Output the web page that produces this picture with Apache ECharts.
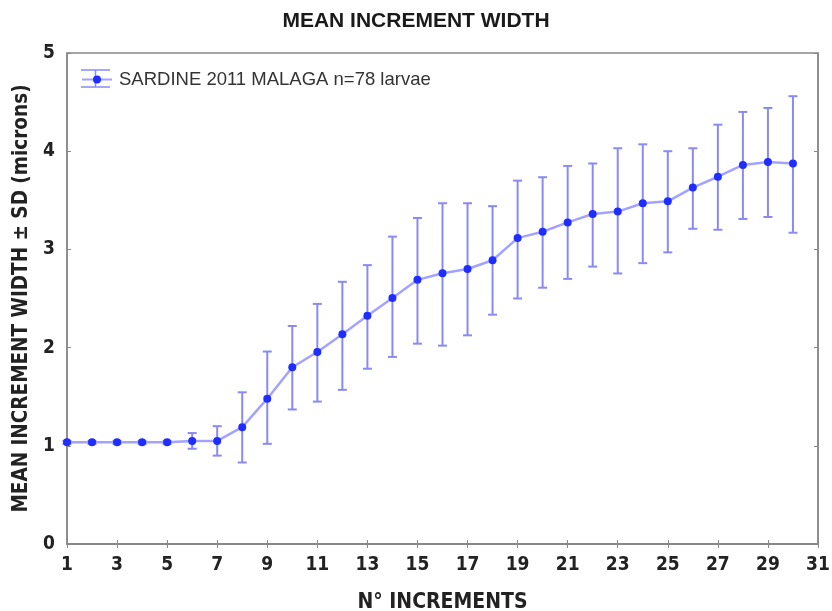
<!DOCTYPE html>
<html><head><meta charset="utf-8">
<script src="https://cdn.jsdelivr.net/npm/echarts@6/dist/echarts.min.js"></script>
<style>html,body{margin:0;padding:0;background:#fff;overflow:hidden}#c{width:832px;height:611px;display:block}</style>
</head><body><div id="c"></div>
<script>
const tickLabels = ['1','2','3','4','5','6','7','8','9','10','11','12','13','14','15','16','17','18','19','20','21','22','23','24','25','26','27','28','29','30','31'];
const increments = [1,2,3,4,5,6,7,8,9,10,11,12,13,14,15,16,17,18,19,20,21,22,23,24,25,26,27,28,29,30];
const meanWidth = [1.035,1.035,1.035,1.035,1.035,1.05,1.05,1.19,1.48,1.80,1.955,2.135,2.325,2.505,2.69,2.757,2.80,2.89,3.115,3.18,3.275,3.36,3.385,3.47,3.49,3.63,3.74,3.86,3.89,3.875];
const upperSD = [1.05,1.05,1.05,1.05,1.05,1.13,1.20,1.545,1.96,2.22,2.445,2.67,2.84,3.13,3.32,3.47,3.47,3.44,3.70,3.735,3.85,3.875,4.03,4.07,4.00,4.03,4.27,4.40,4.44,4.56];
const lowerSD = [1.02,1.02,1.02,1.02,1.02,0.97,0.90,0.83,1.02,1.37,1.45,1.57,1.785,1.905,2.04,2.02,2.125,2.335,2.50,2.61,2.70,2.825,2.755,2.86,2.97,3.21,3.20,3.31,3.33,3.17];
const yTicks = [0,1,2,3,4,5];
const seriesName = 'SARDINE 2011 MALAGA n=78 larvae';

const chart = echarts.init(document.getElementById('c'));
const lineData = increments.map((x,i)=>[String(x), meanWidth[i]]);
const errData = increments.map((x,i)=>[String(x), lowerSD[i], upperSD[i]]);
const narrow = "'DejaVu Sans Condensed','Liberation Sans Narrow','Arial Narrow',sans-serif";
const errColor = '#8a8af4';
chart.setOption({
  animation:false,
  title:{text:'MEAN INCREMENT WIDTH',left:'center',top:6,itemGap:0,textStyle:{fontFamily:"'Liberation Sans',Arial,sans-serif",fontWeight:'bold',fontSize:21,color:'#1a1a1a'}},
  grid:{left:67,right:14,top:53,bottom:67,show:true,borderColor:'#888',borderWidth:1.5,containLabel:false,outerBoundsMode:'none'},
  legend:{left:76,top:65,data:[seriesName],itemWidth:30,itemHeight:10,itemGap:6,
    textStyle:{fontFamily:"'Liberation Sans',Arial,sans-serif",fontSize:18.5,color:'#333',padding:[0,0,0,2]}},
  xAxis:[{type:'category',data:tickLabels,boundaryGap:false,
    name:'N° INCREMENTS',nameLocation:'middle',nameGap:48,
    nameTextStyle:{fontFamily:narrow,fontWeight:'bold',fontSize:21,color:'#222'},
    axisLine:{lineStyle:{color:'#888',width:1.5}},
    axisTick:{inside:true,interval:1,length:4,lineStyle:{color:'#888'}},
    axisLabel:{interval:1,margin:12,fontFamily:narrow,fontWeight:'bold',fontSize:19,color:'#222'},
    splitLine:{show:false}},
   {type:'category',data:tickLabels,boundaryGap:false,position:'top',
    axisLine:{lineStyle:{color:'#888',width:1.5}},
    axisTick:{inside:true,interval:1,length:4,lineStyle:{color:'#888'}},
    axisLabel:{show:false},splitLine:{show:false}}],
  yAxis:[{type:'value',min:0,max:5,interval:1,
    name:'MEAN INCREMENT WIDTH ± SD (microns)',nameLocation:'middle',nameGap:35,
    nameTextStyle:{fontFamily:narrow,fontWeight:'bold',fontSize:20.5,color:'#222'},
    axisLine:{show:true,lineStyle:{color:'#888',width:1.5}},
    axisTick:{show:true,inside:true,length:4,lineStyle:{color:'#888'}},
    axisLabel:{margin:12,fontFamily:narrow,fontWeight:'bold',fontSize:19,color:'#222',formatter:v=>yTicks.includes(v)?String(v):''},
    splitLine:{show:false}},
   {type:'value',min:0,max:5,interval:1,position:'right',
    axisLine:{show:true,lineStyle:{color:'#888',width:1.5}},
    axisTick:{show:true,inside:true,length:4,lineStyle:{color:'#888'}},
    axisLabel:{show:false},splitLine:{show:false}}],
  series:[
    {type:'custom',name:'err',data:errData,z:2,silent:true,
     renderItem:function(params,api){
       const lo=api.coord([api.value(0),api.value(1)]);
       const hi=api.coord([api.value(0),api.value(2)]);
       const w=4.5;
       const st={stroke:errColor,lineWidth:2};
       return {type:'group',children:[
         {type:'line',shape:{x1:lo[0],y1:lo[1],x2:hi[0],y2:hi[1]},style:st},
         {type:'line',shape:{x1:lo[0]-w,y1:lo[1],x2:lo[0]+w,y2:lo[1]},style:st},
         {type:'line',shape:{x1:hi[0]-w,y1:hi[1],x2:hi[0]+w,y2:hi[1]},style:st}]};
     },
     encode:{x:0,y:[1,2]}},
    {type:'line',name:seriesName,data:lineData,z:3,
     symbol:'circle',symbolSize:8,
     lineStyle:{color:'#a3a3ff',width:2.5},
     itemStyle:{color:'#1f2dff'}}
  ],
  graphic:[
    {type:'line',shape:{x1:81,y1:70,x2:110,y2:70},style:{stroke:errColor,lineWidth:1.5}},
    {type:'line',shape:{x1:81,y1:87,x2:110,y2:87},style:{stroke:errColor,lineWidth:1.5}},
    {type:'line',shape:{x1:95.5,y1:70,x2:95.5,y2:87},style:{stroke:errColor,lineWidth:1.5}}
  ]
});
</script></body></html>
